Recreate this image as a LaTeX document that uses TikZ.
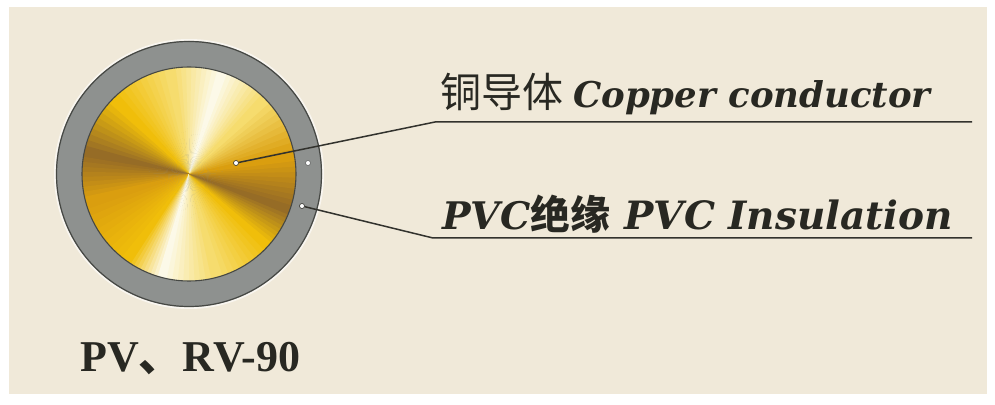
\documentclass[tikz,border=0pt]{standalone}
\usepackage{fontspec}
\setmainfont{Liberation Serif}
\newfontfamily\latinit{DejaVu Serif}
\newfontfamily\cjk{Noto Sans CJK SC}
\definecolor{paper}{RGB}{240,233,217}
\definecolor{ring}{RGB}{142,145,143}
\definecolor{ringedge}{RGB}{70,72,68}
\definecolor{leader}{RGB}{50,50,45}
\definecolor{ink}{RGB}{40,40,34}
% conductor palette
\definecolor{gW}{RGB}{252,249,232}
\definecolor{gL}{RGB}{246,220,110}
\definecolor{gY}{RGB}{240,190,10}
\definecolor{gO}{RGB}{218,158,15}
\definecolor{gD}{RGB}{150,108,38}
\tikzset{
  leaderline/.style={draw=leader, line width=1.5pt, line join=round},
  tapdot/.style={circle, fill=white, draw=leader, line width=0.6pt, inner sep=0pt, minimum size=5pt},
  label1/.style={anchor=base west, inner sep=0pt, text=ink},
}
\begin{document}
\begin{tikzpicture}[x=1pt,y=1pt]
\useasboundingbox (0,0) rectangle (995,404);
\fill[white] (0,0) rectangle (995,404);
\fill[paper] (9,10) rectangle (987,397);

% insulation ring
\coordinate (c) at (189,230);
\fill[white!60!paper] (c) circle[radius=135];
\fill[ring] (c) circle[radius=133];
\draw[ringedge, line width=1.2pt] (c) circle[radius=132.5];

% conductor: conic gold shading built from thin wedges
\begin{scope}[shift={(c)}]
  \foreach \a/\b/\ca/\cb in {
      -20/10/gD/gO, 10/45/gO/gL, 45/72/gL/gW, 72/100/gW/gL,
      100/135/gL/gY, 135/168/gY/gD, 168/195/gD/gO, 195/235/gO/gY,
      235/255/gY/gW, 255/285/gW/gL, 285/318/gL/gY, 318/340/gY/gD}{
    \foreach \i in {0,...,9}{
      \pgfmathsetmacro\s{\a+(\b-\a)*\i/10}
      \pgfmathsetmacro\e{\s+(\b-\a)/10+0.6}
      \pgfmathtruncatemacro\p{100*\i/9}
      \fill[\cb!\p!\ca] (0,0) -- (\s:107) arc[start angle=\s, end angle=\e, radius=107] -- cycle;
    }
  }
\end{scope}
\draw[ringedge, line width=1.1pt] (c) circle[radius=107];

% tap points
\node[tapdot] (pcu) at (236,241) {};
\node[tapdot] (ppvc) at (302,198) {};
\node[tapdot, draw=ring!70!black] (pmark) at (308,241) {};

% leader lines
\coordinate (k1) at (435,282);
\coordinate (e1) at (972,282);
\coordinate (k2) at (433,166);
\coordinate (e2) at (972,166);
\draw[leaderline] (pcu) -- (k1) -- (e1);
\draw[leaderline] (ppvc) -- (k2) -- (e2);

% labels
\node[label1] (t1) at (440,296) {{\fontsize{41}{41}\selectfont\cjk 铜导体}\hspace{10pt}{\fontsize{35.5}{35.5}\selectfont\latinit\bfseries\itshape Copper conductor}};
\node[label1] (t2) at (442,174) {{\fontsize{38}{38}\selectfont\latinit\bfseries\itshape PVC}{\fontsize{40}{40}\selectfont\cjk\bfseries 绝缘}\hspace{14pt}{\fontsize{39}{39}\selectfont\latinit\bfseries\itshape PVC Insulation}};
\node[label1] (t3) at (80,32) {\fontsize{44}{44}\selectfont\bfseries PV{\cjk 、}RV-90};
\end{tikzpicture}
\end{document}
